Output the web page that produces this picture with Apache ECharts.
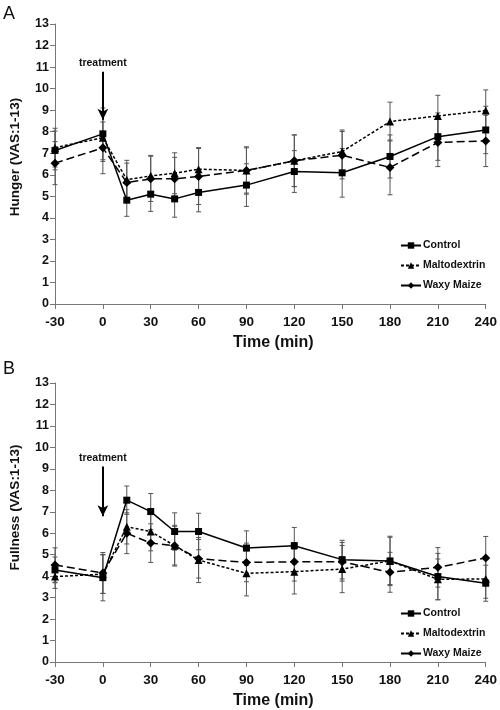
<!DOCTYPE html>
<html>
<head>
<meta charset="utf-8">
<script src="https://cdn.jsdelivr.net/npm/echarts@6/dist/echarts.min.js"></script>
<style>html,body{margin:0;padding:0;background:#fff}#c{width:500px;height:710px}</style>
</head>
<body>
<div id="c"></div>
<script>
var times = [-30, 0, 15, 30, 45, 60, 90, 120, 150, 180, 210, 240];
var xTicks = [-30, 0, 30, 60, 90, 120, 150, 180, 210, 240];
var seriesNames = ['Control', 'Maltodextrin', 'Waxy Maize'];

var hungerControl = [7.13, 7.9, 4.82, 5.1, 4.88, 5.18, 5.52, 6.15, 6.09, 6.85, 7.77, 8.08];
var hungerMalto   = [7.26, 7.72, 5.77, 5.95, 6.07, 6.26, 6.2, 6.65, 7.08, 8.47, 8.73, 8.98];
var hungerWaxy    = [6.54, 7.25, 5.64, 5.81, 5.81, 5.92, 6.2, 6.65, 6.91, 6.34, 7.5, 7.57];
var hungerControlErr = [0.9, 1.2, 0.75, 0.8, 0.85, 0.9, 0.99, 0.97, 1.13, 1.0, 1.1, 1.1];
var hungerMaltoErr   = [0.9, 1.1, 0.9, 0.95, 0.95, 1.0, 1.05, 1.2, 1.0, 0.9, 0.96, 0.96];
var hungerWaxyErr    = [1.0, 1.2, 0.9, 1.05, 1.0, 1.3, 1.1, 1.2, 1.1, 1.27, 1.12, 1.19];

var fullControl = [4.29, 3.93, 7.54, 7.01, 6.08, 6.08, 5.31, 5.42, 4.77, 4.71, 3.98, 3.67];
var fullMalto   = [3.98, 4.09, 6.3, 6.08, 5.42, 4.75, 4.13, 4.21, 4.33, 4.71, 3.85, 3.87];
var fullWaxy    = [4.52, 4.15, 6.0, 5.54, 5.42, 4.81, 4.64, 4.67, 4.67, 4.18, 4.41, 4.85];
var fullControlErr = [0.6, 1.08, 0.66, 0.84, 0.87, 0.85, 0.8, 0.85, 0.9, 1.15, 1.08, 0.84];
var fullMaltoErr   = [0.55, 0.9, 0.8, 0.9, 0.95, 1.05, 1.05, 1.04, 1.1, 1.1, 0.95, 0.9];
var fullWaxyErr    = [0.8, 0.95, 0.95, 0.9, 0.9, 0.9, 0.9, 0.9, 0.9, 0.93, 0.92, 1.0];

var treatmentArrowA = [10.78, 8.55];
var treatmentArrowB = [9.11, 6.79];

var FONT = '"Liberation Sans", Arial, sans-serif';
var styles = [
  {symbol: 'rect', symbolSize: 7, type: 'solid'},
  {symbol: 'triangle', symbolSize: 8, type: [3, 2]},
  {symbol: 'diamond', symbolSize: 9, type: [8, 4]}
];

function pairs(vals) { return times.map(function (t, i) { return [t, vals[i]]; }); }
function triples(vals, errs) { return times.map(function (t, i) { return [t, vals[i], errs[i]]; }); }

function errSeries(idx, vals, errs, k) {
  return {
    type: 'custom', name: 'err' + idx + '_' + k, xAxisIndex: idx, yAxisIndex: idx, z: 1,
    silent: true,
    data: triples(vals, errs),
    renderItem: function (params, api) {
      var x = api.value(0), y = api.value(1), e = api.value(2);
      var t = api.coord([x, y + e]), b = api.coord([x, y - e]);
      var w = 2.5;
      var st = {stroke: '#555', lineWidth: 1};
      return {type: 'group', children: [
        {type: 'line', shape: {x1: t[0], y1: t[1], x2: b[0], y2: b[1]}, style: st},
        {type: 'line', shape: {x1: t[0] - w, y1: t[1], x2: t[0] + w, y2: t[1]}, style: st},
        {type: 'line', shape: {x1: b[0] - w, y1: b[1], x2: b[0] + w, y2: b[1]}, style: st}
      ]};
    }
  };
}

function lineSeries(idx, k, vals, arrow) {
  var s = {
    type: 'line', name: seriesNames[k], xAxisIndex: idx, yAxisIndex: idx, z: 3,
    data: pairs(vals),
    symbol: styles[k].symbol, symbolSize: styles[k].symbolSize,
    lineStyle: {color: '#000', width: 1.5, type: styles[k].type},
    itemStyle: {color: '#000'},
    animation: false
  };
  if (arrow) {
    s.markLine = {
      silent: true, animation: false,
      symbol: ['none', 'arrow'], symbolSize: [8, 11],
      lineStyle: {color: '#000', width: 2, type: 'solid'},
      label: {show: true, position: 'start', formatter: 'treatment', distance: 3,
              color: '#111', fontWeight: 'bold', fontSize: 10.5, fontFamily: FONT},
      data: [[{coord: [0, arrow[0]]}, {coord: [0, arrow[1]]}]]
    };
  }
  return s;
}

function xAxis(idx) {
  return {
    type: 'value', gridIndex: idx, min: -30, max: 240, interval: 30,
    name: 'Time (min)', nameLocation: 'middle', nameGap: 31,
    nameTextStyle: {color: '#111', fontWeight: 'bold', fontSize: 16, fontFamily: FONT, padding: [0, 0, 0, 6]},
    axisLine: {onZero: false, lineStyle: {color: '#777', width: 1}},
    axisTick: {length: 5, lineStyle: {color: '#777'}},
    axisLabel: {color: '#111', fontWeight: 'bold', fontSize: 13.5, fontFamily: FONT, margin: 11},
    splitLine: {show: false}
  };
}
function yAxis(idx, name, pad) {
  return {
    type: 'value', gridIndex: idx, min: 0, max: 13, interval: 1,
    name: name, nameLocation: 'middle', nameGap: 33,
    nameTextStyle: {color: '#111', fontWeight: 'bold', fontSize: 13.5, fontFamily: FONT, padding: [0, 0, 0, pad]},
    axisLine: {show: true, onZero: false, lineStyle: {color: '#777', width: 1}},
    axisTick: {show: true, length: 5, lineStyle: {color: '#777'}},
    axisLabel: {color: '#111', fontWeight: 'bold', fontSize: 12.5, fontFamily: FONT, margin: 6},
    splitLine: {show: false}
  };
}
function legend(top) {
  return {
    data: seriesNames, orient: 'vertical', left: 395, top: top,
    itemWidth: 20, itemHeight: 8, itemGap: 9,
    textStyle: {color: '#111', fontWeight: 'bold', fontSize: 10.5, fontFamily: FONT, padding: [0, 0, 0, -3]},
    selectedMode: false
  };
}

var chart = echarts.init(document.getElementById('c'), null, {renderer: 'canvas'});
chart.setOption({
  animation: false,
  backgroundColor: '#fff',
  grid: [
    {left: 52, right: 12, top: 24, height: 280},
    {left: 52, right: 12, top: 383, height: 280}
  ],
  xAxis: [xAxis(0), xAxis(1)],
  yAxis: [yAxis(0, 'Hunger (VAS:1-13)', 14), yAxis(1, 'Fullness (VAS:1-13)', 30)],
  legend: [legend(235), legend(603)],
  graphic: [
    {type: 'text', left: 3, top: 5, style: {text: 'A', font: '18px ' + FONT, fill: '#111'}},
    {type: 'text', left: 3, top: 360, style: {text: 'B', font: '18px ' + FONT, fill: '#111'}}
  ],
  series: [
    errSeries(0, hungerControl, hungerControlErr, 0),
    errSeries(0, hungerMalto, hungerMaltoErr, 1),
    errSeries(0, hungerWaxy, hungerWaxyErr, 2),
    lineSeries(0, 0, hungerControl, treatmentArrowA),
    lineSeries(0, 1, hungerMalto),
    lineSeries(0, 2, hungerWaxy),
    errSeries(1, fullControl, fullControlErr, 0),
    errSeries(1, fullMalto, fullMaltoErr, 1),
    errSeries(1, fullWaxy, fullWaxyErr, 2),
    lineSeries(1, 0, fullControl, treatmentArrowB),
    lineSeries(1, 1, fullMalto),
    lineSeries(1, 2, fullWaxy)
  ]
});
</script>
</body>
</html>
